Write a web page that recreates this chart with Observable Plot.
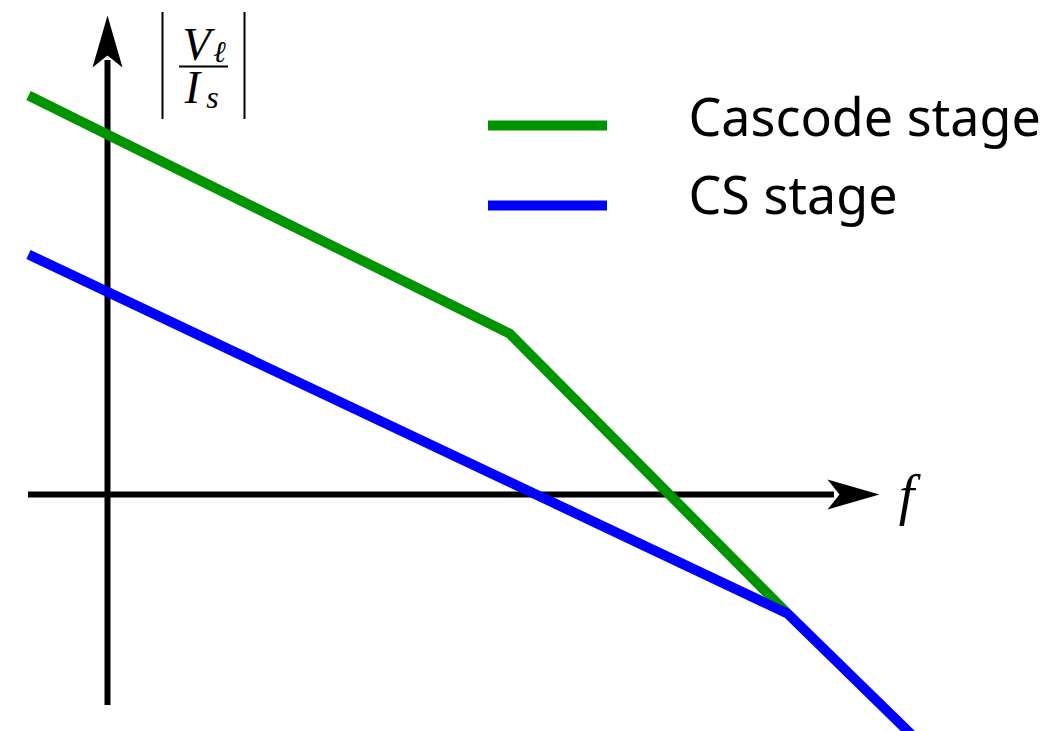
<!DOCTYPE html>
<html>
<head>
<meta charset="utf-8">
<script src="https://cdn.jsdelivr.net/npm/d3@7"></script>
<script src="https://cdn.jsdelivr.net/npm/@observablehq/plot@0.6"></script>
<style>
  html, body { margin: 0; padding: 0; background: #fff; }
  #chart svg { display: block; }
</style>
</head>
<body>
<div id="chart"></div>
<script>
// Asymptotic |Vℓ/Is| vs frequency for a CS stage and a cascode stage
// (piecewise-linear sketch, arbitrary units).
const cascodeF = [-0.79, 4.02, 6.80];
const cascodeG = [3.99, 1.61, -1.19];
const csF = [-0.79, 6.80, 8.10];
const csG = [2.40, -1.19, -2.46];

const seriesNames = ["Cascode stage", "CS stage"];
const seriesColors = ["#009400", "#0000ff"];

// axis extents (arrow tips)
const fAxis = { from: -0.79, tip: 7.72 };
const gAxis = { from: -2.11, tip: 4.79 };

// legend placement, data units
const legendX = [3.81, 5.00];
const legendY = [3.69, 2.89];
const legendTextX = 5.81;
const legendTextY = [3.59, 2.81];

const cascode = cascodeF.map((f, i) => ({ f, g: cascodeG[i] }));
const cs = csF.map((f, i) => ({ f, g: csG[i] }));
const legend = seriesNames.map((name, i) => ({
  name, color: seriesColors[i], x1: legendX[0], x2: legendX[1], y: legendY[i], ty: legendTextY[i]
}));

// filled "stealth" arrowheads, origin at the tip
const arrowUp = {
  draw(ctx) {
    ctx.moveTo(0, 0);
    ctx.lineTo(15, 52);
    ctx.lineTo(0, 40);
    ctx.lineTo(-15, 52);
    ctx.closePath();
  }
};
const arrowRight = {
  draw(ctx) {
    ctx.moveTo(0, 0);
    ctx.lineTo(-52, -15);
    ctx.lineTo(-40, 0);
    ctx.lineTo(-52, 15);
    ctx.closePath();
  }
};

const serif = "'Liberation Serif', 'DejaVu Serif', serif";

const chart = Plot.plot({
  width: 1057,
  height: 731,
  margin: 0,
  x: { domain: [-1.07, 9.50], axis: null },
  y: { domain: [-2.37, 4.94], axis: null },
  style: { background: "#fff" },
  marks: [
    // axes
    Plot.ruleY([0], { x1: fAxis.from, x2: fAxis.tip - 0.45, stroke: "black", strokeWidth: 6 }),
    Plot.ruleX([0], { y1: gAxis.from, y2: gAxis.tip - 0.45, stroke: "black", strokeWidth: 6 }),
    Plot.dot([{ x: fAxis.tip, y: 0 }], { x: "x", y: "y", symbol: arrowRight, fill: "black", stroke: null }),
    Plot.dot([{ x: 0, y: gAxis.tip }], { x: "x", y: "y", symbol: arrowUp, fill: "black", stroke: null }),

    // axis labels
    Plot.text(["f"], { x: 7.99, y: -0.19, lineAnchor: "bottom", fontFamily: serif, fontStyle: "italic", fontSize: 56, fill: "black" }),
    Plot.ruleX([0.55, 1.37], { y1: 3.75, y2: 4.82, stroke: "black", strokeWidth: 2 }),
    Plot.ruleY([4.28], { x1: 0.72, x2: 1.21, stroke: "black", strokeWidth: 2 }),
    Plot.text(["V"], { x: 0.89, y: 4.35, lineAnchor: "bottom", fontFamily: serif, fontStyle: "italic", fontSize: 46, fill: "black" }),
    Plot.text(["ℓ"], { x: 1.12, y: 4.33, lineAnchor: "bottom", fontFamily: serif, fontStyle: "italic", fontSize: 30, fill: "black" }),
    Plot.text(["I"], { x: 0.85, y: 3.92, lineAnchor: "bottom", fontFamily: serif, fontStyle: "italic", fontSize: 46, fill: "black" }),
    Plot.text(["s"], { x: 1.05, y: 3.87, lineAnchor: "bottom", fontFamily: serif, fontStyle: "italic", fontSize: 32, fill: "black" }),

    // responses
    Plot.line(cascode, { x: "f", y: "g", stroke: seriesColors[0], strokeWidth: 10, strokeLinecap: "butt", strokeLinejoin: "miter", clip: true }),
    Plot.line(cs, { x: "f", y: "g", stroke: seriesColors[1], strokeWidth: 10, strokeLinecap: "butt", strokeLinejoin: "miter", clip: true }),

    // legend
    Plot.ruleY(legend, { x1: "x1", x2: "x2", y: "y", stroke: "color", strokeWidth: 10 }),
    Plot.text(legend, { x: legendTextX, y: "ty", text: "name", textAnchor: "start", lineAnchor: "bottom",
      fontFamily: "'Noto Sans', sans-serif", fontSize: 52, fill: "black" })
  ]
});

document.getElementById("chart").appendChild(chart);
</script>
</body>
</html>
